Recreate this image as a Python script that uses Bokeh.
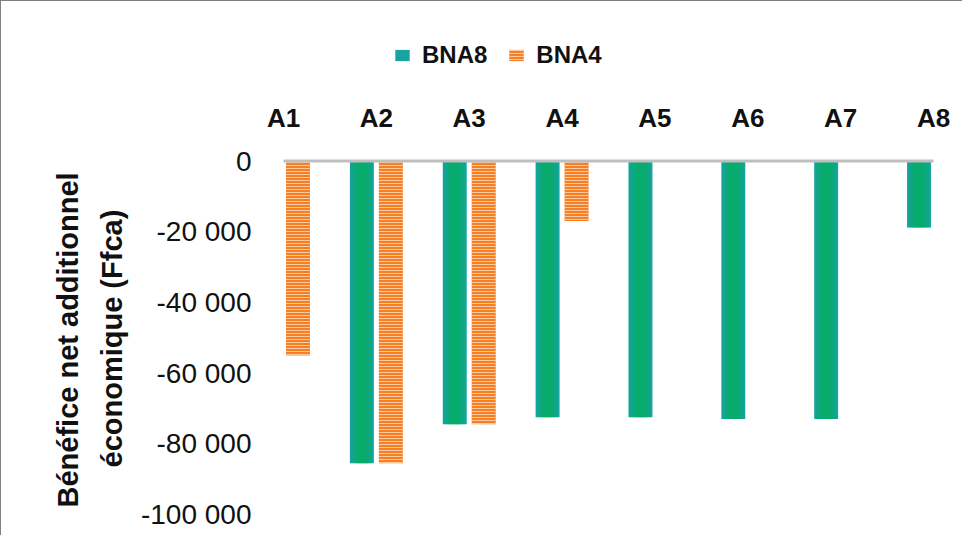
from bokeh.plotting import figure
from bokeh.models import (Range1d, FixedTicker, CustomJSTickFormatter, Legend, LegendItem,
                          LinearAxis, ColumnDataSource, Title)
from bokeh.transform import dodge
from bokeh.embed import file_html
from bokeh.resources import INLINE

# ---- data ----
categories = ["A1", "A2", "A3", "A4", "A5", "A6", "A7", "A8"]
series_names = ["BNA8", "BNA4"]
bna8 = [0, -85500, -74500, -72500, -72500, -73000, -73000, -18800]
bna4 = [-55000, -85500, -74500, -17000, 0, 0, 0, 0]
y_ticks = [0, -20000, -40000, -60000, -80000, -100000]
y_title_lines = ["Bénéfice net additionnel", "économique (Ffca)"]

# ---- layout ----
W, H = 962, 535
B_LEFT, B_RIGHT, B_TOP, B_BOTTOM = 262, 0, 10, 22
frame_w = W - B_LEFT - B_RIGHT
frame_h = H - B_TOP - B_BOTTOM
cat_px = 92.86
xs = list(range(1, len(categories) + 1))
x_start = xs[0] - 20 / cat_px
x_end = x_start + frame_w / cat_px
px_per_unit = 353.5 / 100000
y_start = y_ticks[-1]
y_end = y_start + frame_h / px_per_unit

FONT = "Liberation Sans"
TXT = "#111111"

p = figure(width=W, height=H, x_range=Range1d(x_start, x_end), y_range=Range1d(y_start, y_end),
           output_backend="svg", toolbar_location=None, x_axis_location=None,
           min_border_left=B_LEFT, min_border_right=B_RIGHT, min_border_top=B_TOP,
           min_border_bottom=B_BOTTOM)
p.outline_line_color = None
p.xgrid.visible = False
p.ygrid.visible = False
p.background_fill_color = "white"
p.border_fill_color = "white"
p.styles = {"border-top": "1px solid #808080", "border-left": "1px solid #808080"}

src = ColumnDataSource(dict(x=xs, bna8=bna8, bna4=bna4))
off = 0.156
bw = 0.258

# BNA8: teal with green centre (layered to mimic gradient)
r8 = p.vbar(x=dodge("x", -off), width=bw, top="bna8", bottom=0, source=src,
            fill_color="#17a3a2", line_color=None)
for frac in (0.85, 0.6, 0.35):
    p.vbar(x=dodge("x", -off), width=bw * frac, top="bna8", bottom=0, source=src,
           fill_color="#00b050", fill_alpha=0.3, line_color=None)

# BNA4: orange with horizontal stripes
r4 = p.vbar(x=dodge("x", off), width=bw, top="bna4", bottom=0, source=src,
            fill_color="#f47f24", line_color=None,
            hatch_pattern="horizontal_line", hatch_color="#fcc9a0", hatch_scale=3,
            hatch_weight=1)

# zero line between first and last category
p.segment(x0=xs[0], y0=0, x1=xs[-1], y1=0, line_color="#bfbfbf", line_width=3)

# category axis anchored at y = 0, labels above it
cat_axis = LinearAxis(ticker=FixedTicker(ticks=xs),
                      major_label_overrides={x: c for x, c in zip(xs, categories)},
                      fixed_location=0)
cat_axis.axis_line_color = None
cat_axis.major_tick_line_color = None
cat_axis.minor_tick_line_color = None
cat_axis.major_tick_out = 0
cat_axis.major_tick_in = 0
cat_axis.major_label_standoff = 28
cat_axis.major_label_text_font = FONT
cat_axis.major_label_text_font_style = "bold"
cat_axis.major_label_text_font_size = "26px"
cat_axis.major_label_text_color = TXT
p.add_layout(cat_axis, "above")

# y axis
ya = p.yaxis[0]
ya.ticker = FixedTicker(ticks=y_ticks)
ya.formatter = CustomJSTickFormatter(
    code="return tick.toFixed(0).replace(/\\B(?=(\\d{3})+(?!\\d))/g, ' ');")
ya.axis_line_color = None
ya.major_tick_line_color = None
ya.minor_tick_line_color = None
ya.major_tick_out = 0
ya.major_tick_in = 0
ya.major_label_standoff = 12
ya.major_label_text_font = FONT
ya.major_label_text_font_size = "28px"
ya.major_label_text_color = TXT

# two-line y title, centred on the 0 .. -100 000 span
t2 = Title(text=y_title_lines[1], align="left", offset=47, standoff=20,
           text_font=FONT, text_font_style="bold", text_font_size="29px", text_color=TXT)
t1 = Title(text=y_title_lines[0], align="left", offset=7, standoff=0,
           text_font=FONT, text_font_style="bold", text_font_size="29px", text_color=TXT)
p.add_layout(t2, "left")
p.add_layout(t1, "left")

legend = Legend(items=[LegendItem(label=series_names[0], renderers=[r8]),
                       LegendItem(label=series_names[1], renderers=[r4])],
                location=(130, 445), orientation="horizontal")
legend.glyph_width = 18
legend.glyph_height = 14
legend.label_standoff = 11
legend.spacing = 20
legend.padding = 0
legend.margin = 0
legend.border_line_color = None
legend.background_fill_alpha = 0
legend.label_text_font = FONT
legend.label_text_font_style = "bold"
legend.label_text_font_size = "24px"
legend.label_text_color = TXT
p.add_layout(legend)

open("out.html", "w").write(file_html(p, INLINE))
